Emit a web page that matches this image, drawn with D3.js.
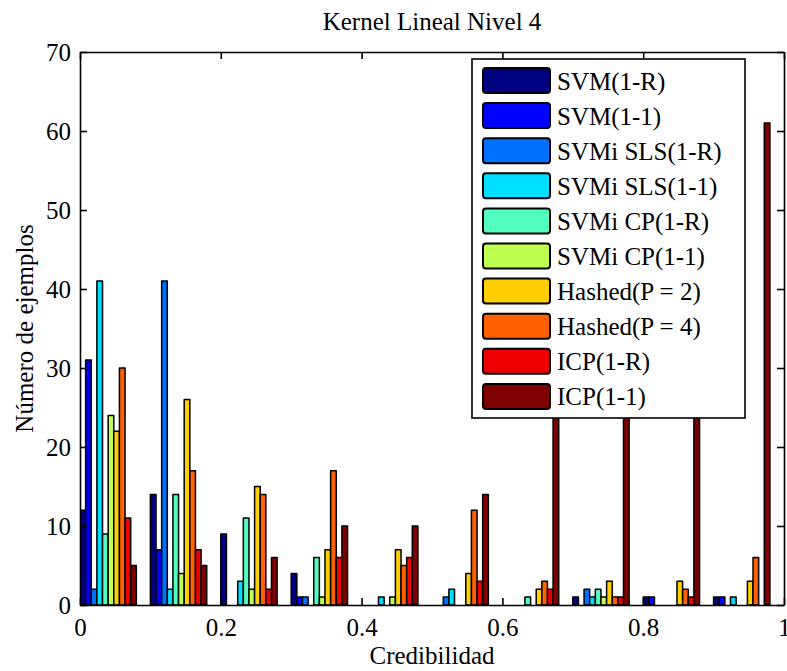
<!DOCTYPE html>
<html>
<head>
<meta charset="utf-8">
<script src="https://cdn.jsdelivr.net/npm/d3@7"></script>
<style>
  body { margin: 0; background: #fff; }
  text { font-family: "Liberation Serif", "Times New Roman", serif; fill: #000; }
</style>
</head>
<body>
<svg></svg>
<script>
let width = 787, height = 671;

// bin centres of the histogram
var centers = [0.04, 0.14, 0.24, 0.34, 0.44, 0.54, 0.64, 0.74, 0.84, 0.94]

var seriesNames = ["SVM(1-R)", "SVM(1-1)", "SVMi SLS(1-R)", "SVMi SLS(1-1)", "SVMi CP(1-R)",
    "SVMi CP(1-1)", "Hashed(P = 2)", "Hashed(P = 4)", "ICP(1-R)", "ICP(1-1)"]

var svm1R    = [12, 14, 9, 4, 0, 0, 0, 1, 1, 1]
var svm11    = [31, 7, 0, 1, 0, 0, 0, 0, 1, 1]
var slsR     = [2, 41, 0, 1, 0, 1, 0, 2, 0, 0]
var sls11    = [41, 2, 3, 0, 1, 2, 0, 1, 0, 1]
var cpR      = [9, 14, 11, 6, 0, 0, 1, 2, 0, 0]
var cp11     = [24, 4, 2, 1, 1, 0, 0, 1, 0, 0]
var hashed2  = [22, 26, 15, 7, 7, 4, 2, 3, 3, 3]
var hashed4  = [30, 17, 14, 17, 5, 12, 3, 1, 2, 6]
var icpR     = [11, 7, 2, 6, 6, 3, 2, 1, 1, 0]
var icp11    = [5, 5, 6, 10, 10, 14, 30, 35, 40, 61]

var xTicks = [0, 0.2, 0.4, 0.6, 0.8, 1]
var yTicks = [0, 10, 20, 30, 40, 50, 60, 70]

// jet colormap picked per series
var colors = ["#000080", "#0000ff", "#0070ff", "#00dfff", "#50ffbf",
    "#bfff50", "#ffcf00", "#ff6000", "#ef0000", "#800000"]

var series = [svm1R, svm11, slsR, sls11, cpR, cp11, hashed2, hashed4, icpR, icp11]

let margin = {left: 80, right: 3, top: 52, bottom: 66}

let svg = d3.select("svg")
    .attr("width", width)
    .attr("height", height)

let x = d3.scaleLinear().domain([0, 1]).range([margin.left, width - margin.right])
let y = d3.scaleLinear().domain([0, 70]).range([height - margin.bottom, margin.top])

let groupWidth = 0.08
let barW = groupWidth / series.length

svg.append("defs").append("clipPath").attr("id", "plot")
    .append("rect")
    .attr("x", x(0)).attr("y", y(70))
    .attr("width", x(1) - x(0)).attr("height", y(0) - y(70))

let bars = svg.append("g").attr("clip-path", "url(#plot)")

series.forEach((vals, k) => {
    bars.append("g")
        .selectAll("rect")
        .data(vals.map((v, i) => ({c: centers[i], v: v})).filter(d => d.v > 0))
        .enter()
        .append("rect")
        .attr("x", d => x(d.c - groupWidth / 2 + k * barW))
        .attr("width", x(barW) - x(0))
        .attr("y", d => y(d.v))
        .attr("height", d => y(0) - y(d.v))
        .attr("fill", colors[k])
        .attr("stroke", "#000")
        .attr("stroke-width", 1.5)
        .attr("stroke-linejoin", "round")
})

// axes, MATLAB style box with inner ticks
let fs = "25px"
svg.append("g")
    .attr("transform", "translate(0," + y(0) + ")")
    .call(d3.axisBottom(x).tickValues(xTicks).tickFormat(d3.format("~g")).tickSizeInner(-7).tickSizeOuter(0).tickPadding(13))
    .call(g => g.selectAll("text").style("font-size", fs))
svg.append("g")
    .attr("transform", "translate(0," + y(70) + ")")
    .call(d3.axisTop(x).tickValues(xTicks).tickFormat("").tickSizeInner(-7).tickSizeOuter(0))
svg.append("g")
    .attr("transform", "translate(" + x(0) + ",0)")
    .call(d3.axisLeft(y).tickValues(yTicks).tickSizeInner(-7).tickSizeOuter(0).tickPadding(9))
    .call(g => g.selectAll("text").style("font-size", fs))
svg.append("g")
    .attr("transform", "translate(" + x(1) + ",0)")
    .call(d3.axisRight(y).tickValues(yTicks).tickFormat("").tickSizeInner(-7).tickSizeOuter(0))

svg.selectAll(".domain, .tick line").attr("stroke", "#000").attr("stroke-width", 1.6)
svg.selectAll(".tick text").attr("fill", "#000").style("font-family", "'Liberation Serif', 'Times New Roman', serif")

svg.append("text")
    .attr("x", (x(0) + x(1)) / 2).attr("y", 30)
    .attr("text-anchor", "middle").style("font-size", fs)
    .text("Kernel Lineal Nivel 4")

svg.append("text")
    .attr("x", (x(0) + x(1)) / 2).attr("y", 664)
    .attr("text-anchor", "middle").style("font-size", fs)
    .text("Credibilidad")

svg.append("text")
    .attr("transform", "translate(33," + (y(0) + y(70)) / 2 + ") rotate(-90)")
    .attr("text-anchor", "middle").style("font-size", fs)
    .text("Número de ejemplos")

// legend
let legend = svg.append("g").attr("transform", "translate(472,59)")
legend.append("rect")
    .attr("width", 273).attr("height", 359)
    .attr("fill", "#fff").attr("stroke", "#000").attr("stroke-width", 1.6)

let item = legend.selectAll("g.item")
    .data(seriesNames)
    .enter()
    .append("g")
    .attr("class", "item")
    .attr("transform", (d, i) => "translate(0," + (21.5 + i * 35.1) + ")")

item.append("rect")
    .attr("x", 11).attr("y", -12.5)
    .attr("width", 67).attr("height", 25)
    .attr("rx", 3)
    .attr("fill", (d, i) => colors[i])
    .attr("stroke", "#000").attr("stroke-width", 2)

item.append("text")
    .attr("x", 85).attr("y", 9)
    .style("font-size", fs)
    .text(d => d)
</script>
</body>
</html>
